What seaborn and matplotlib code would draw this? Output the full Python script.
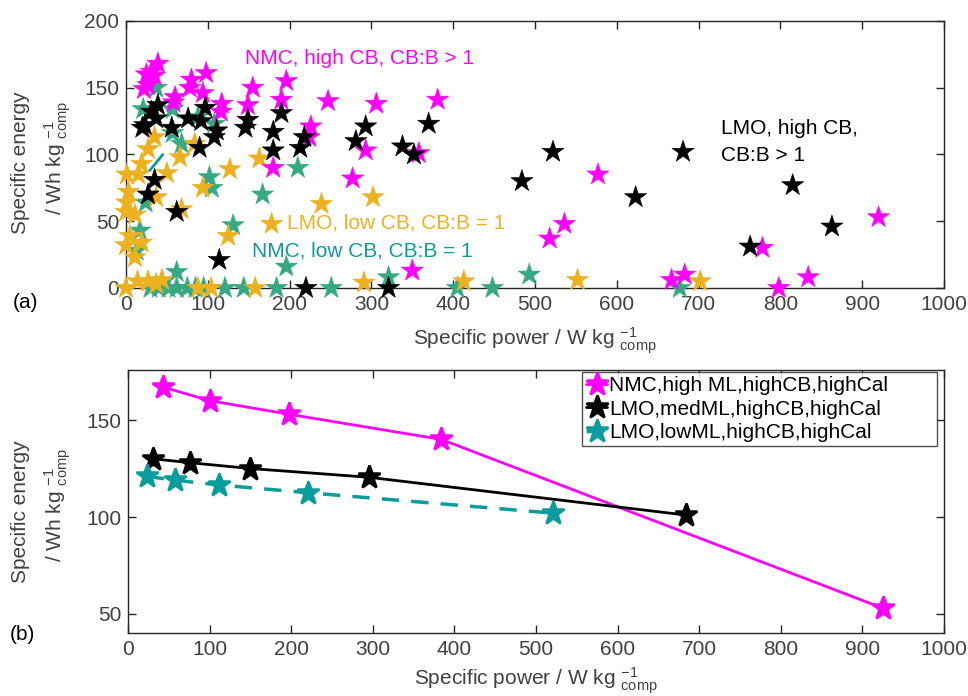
import matplotlib
matplotlib.use("Agg")
import matplotlib.pyplot as plt
import seaborn as sns
import pandas as pd

# ---------------- data (panel a) ----------------
x_nmc_hi = [39, 31, 25, 35, 22, 27, 80, 98, 78, 94, 60, 58, 117, 116, 149, 155, 196, 190, 180,
            226, 224, 247, 306, 381, 293, 358, 277, 350, 518, 536, 577, 778, 920, 667, 683, 798, 834]
y_nmc_hi = [168, 162, 160, 159, 149, 152, 156, 161, 150, 146, 143, 139, 138, 132, 137, 150, 155, 141, 90,
            121, 113, 140, 138, 141, 103, 101, 82, 13, 37, 48, 85, 30, 53, 6, 10, 0, 8]

x_lmo_hi = [39, 31, 37, 23, 20, 56, 76, 92, 97, 111, 108, 90, 149, 146, 180, 190, 180, 213, 218,
            293, 281, 370, 338, 352, 484, 522, 681, 623, 815, 863, 763, 35, 27, 62, 114, 220, 321]
y_lmo_hi = [137, 132, 127, 122, 120, 120, 127, 125, 135, 118, 113, 105, 126, 120, 117, 131, 103, 105, 113,
            121, 110, 123, 106, 100, 80, 102, 102, 68, 77, 46, 31, 81, 70, 57, 21, 0, 0]

x_lmo_lo = [35, 27, 19, 1, 15, 66, 50, 84, 163, 127, 3, 1, 0, 11, 37, 94, 68, 5, 0, 19, 11, 178, 125,
            239, 302, 0, 14, 27, 37, 44, 88, 104, 158, 291, 413, 552, 702]
y_lmo_lo = [113, 104, 93, 85, 85, 98, 86, 108, 97, 89, 72, 64, 57, 55, 68, 75, 59, 39, 32, 34, 23, 48, 39,
            63, 68, 0, 5, 5, 3, 6, 0, 0, 0, 4, 5, 6, 5]

x_nmc_lo = [37, 21, 57, 88, 57, 68, 108, 210, 102, 105, 167, 24, 131, 17, 13, 62, 196, 321, 493, 677,
            30, 40, 52, 62, 75, 85, 95, 121, 144, 184, 251, 405, 448]
y_nmc_lo = [150, 134, 134, 128, 116, 108, 123, 90, 83, 75, 70, 64, 47, 43, 28, 12, 16, 8, 10, 0,
            0, 0, 0, 0, 0, 0, 0, 0, 0, 0, 0, 0, 0]

seg_x = [29, 45]
seg_y = [88, 100]

# ---------------- data (panel b) ----------------
labels_b = ["NMC,high ML,highCB,highCal", "LMO,medML,highCB,highCal", "LMO,lowML,highCB,highCal"]
xb_nmc = [43, 100, 197, 384, 925]
yb_nmc = [167, 160, 153, 140, 53]
xb_lmo_med = [31, 76, 150, 295, 684]
yb_lmo_med = [130, 128, 125, 120.5, 101]
xb_lmo_low = [23, 57, 112, 221, 521]
yb_lmo_low = [121, 119, 116.5, 112.5, 102]

# ---------------- style ----------------
sns.set_theme(style="ticks")
plt.rcParams["font.family"] = ["Liberation Sans", "DejaVu Sans"]
plt.rcParams["mathtext.fontset"] = "custom"
plt.rcParams["mathtext.rm"] = "Liberation Sans"
plt.rcParams["mathtext.it"] = "Liberation Sans:italic"
plt.rcParams["mathtext.bf"] = "Liberation Sans:bold"

FS = 15
TXT = "#404040"
SP = "#262626"
MAG = "#ff00ff"
ORA = "#edb120"
TEAL_PT = "#35a983"
TEAL_TXT = "#0e9a9a"
TEAL_B = "#089c9c"
W, H = 968, 696

fig = plt.figure(figsize=(9.68, 6.96), dpi=100)
ax1 = fig.add_axes([126 / W, 1 - 288 / H, 818 / W, 267 / H])
ax2 = fig.add_axes([128 / W, 1 - 633 / H, 816 / W, 263 / H])

# ---- panel a ----
groups = [("NMC low", x_nmc_lo, y_nmc_lo), ("LMO low", x_lmo_lo, y_lmo_lo),
          ("NMC high", x_nmc_hi, y_nmc_hi), ("LMO high", x_lmo_hi, y_lmo_hi)]
rows = []
for name, xs, ys in groups:
    for a, b in zip(xs, ys):
        rows.append({"power": a, "energy": b, "group": name})
df = pd.DataFrame(rows)
pal = {"NMC low": TEAL_PT, "LMO low": ORA, "NMC high": MAG, "LMO high": "black"}
sns.scatterplot(data=df, x="power", y="energy", hue="group", palette=pal, marker="*",
                s=280, linewidth=0.4, edgecolor="face", legend=False, ax=ax1,
                clip_on=False, zorder=3)
sns.lineplot(x=seg_x, y=seg_y, color=TEAL_TXT, linewidth=2, ax=ax1, legend=False)

ax1.set_xlim(0, 1000)
ax1.set_ylim(0, 200)
ax1.set_xticks(range(0, 1001, 100))
ax1.set_yticks(range(0, 201, 50))

ax1.text(146, 172, "NMC, high CB, CB:B > 1", color=MAG, fontsize=FS, va="center", ha="left")
ax1.text(197, 49, "LMO, low CB, CB:B = 1", color=ORA, fontsize=FS, va="center", ha="left")
ax1.text(154, 27.7, "NMC, low CB, CB:B = 1", color=TEAL_TXT, fontsize=FS, va="center", ha="left")
ax1.text(727, 119.6, "LMO, high CB,", color="black", fontsize=FS, va="center", ha="left")
ax1.text(727, 98.9, "CB:B > 1", color="black", fontsize=FS, va="center", ha="left")

# ---- panel b ----
MS = 17
MEW = 1.8
for xs, ys, col, lab, lw, ls in ((xb_nmc, yb_nmc, MAG, labels_b[0], 2, "-"),
                                 (xb_lmo_med, yb_lmo_med, "black", labels_b[1], 2, "-"),
                                 (xb_lmo_low, yb_lmo_low, TEAL_B, labels_b[2], 2.5, (0, (5, 3.5)))):
    sns.lineplot(x=xs, y=ys, color=col, marker="*", markersize=MS, markeredgewidth=MEW,
                 markeredgecolor=col, markerfacecolor=col, linewidth=lw, linestyle=ls,
                 sort=False, ax=ax2, label=lab)
ax2.set_xlim(0, 1000)
ax2.set_ylim(40.2, 175.8)
ax2.set_xticks(range(0, 1001, 100))
ax2.set_yticks([50, 100, 150])
x0 = (582 - 128) / 816
x1 = (937 - 128) / 816
leg = ax2.legend(loc="upper left", bbox_to_anchor=(x0, 0.5, x1 - x0, 0.493), mode="expand",
                 borderaxespad=0, fontsize=FS, frameon=True, fancybox=False, handlelength=1.0,
                 handletextpad=0.1, labelspacing=0.22, borderpad=0.2)
leg.get_frame().set_edgecolor(SP)
leg.get_frame().set_linewidth(1.0)
for t in leg.get_texts():
    t.set_color("black")

for ax in (ax1, ax2):
    for s in ax.spines.values():
        s.set_visible(True)
        s.set_color(SP)
        s.set_linewidth(1.0)
    ax.tick_params(direction="in", length=6, width=1, colors=SP, labelcolor=TXT,
                   labelsize=FS, top=True, right=True, pad=5)
    ax.set_ylabel("")

xlab = r"Specific power / W kg$\ {}^{\mathrm{-1}}_{\mathrm{comp}}$"
ax1.set_xlabel(xlab, fontsize=FS, color=TXT, labelpad=8)
ax2.set_xlabel(xlab, fontsize=FS, color=TXT, labelpad=5)

# y labels (two lines, placed like the reference)
ylab2 = r"/ Wh kg$\ {}^{\mathrm{-1}}_{\mathrm{comp}}$"
for yc1, yc2 in ((163, 158), (512, 505)):
    fig.text(21 / W, 1 - yc1 / H, "Specific energy", rotation=90, fontsize=FS, color=TXT,
             ha="center", va="center")
    fig.text(58 / W, 1 - yc2 / H, ylab2, rotation=90, fontsize=FS, color=TXT,
             ha="center", va="center")

fig.text(25 / W, 1 - 302 / H, "(a)", fontsize=FS, color="black", ha="center", va="center")
fig.text(22 / W, 1 - 635 / H, "(b)", fontsize=FS, color="black", ha="center", va="center")

fig.savefig("out.png", dpi=100)
